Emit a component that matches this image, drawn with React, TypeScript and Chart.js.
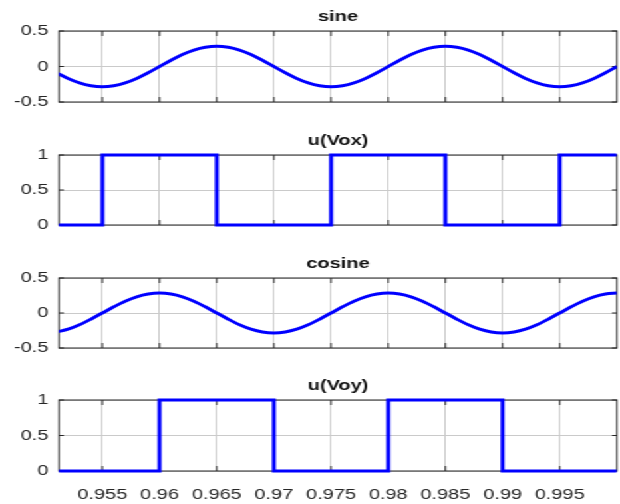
import React, { useEffect, useRef } from "react";
import { Chart, registerables } from "chart.js";

Chart.register(...registerables);

// ---------- data ----------
const TIME = [
  0.951, 0.952, 0.953, 0.954, 0.955, 0.956, 0.957, 0.958, 0.959, 0.96,
  0.961, 0.962, 0.963, 0.964, 0.965, 0.966, 0.967, 0.968, 0.969, 0.97,
  0.971, 0.972, 0.973, 0.974, 0.975, 0.976, 0.977, 0.978, 0.979, 0.98,
  0.981, 0.982, 0.983, 0.984, 0.985, 0.986, 0.987, 0.988, 0.989, 0.99,
  0.991, 0.992, 0.993, 0.994, 0.995, 0.996, 0.997, 0.998, 0.999, 1.0,
];
const SINE = [
  -0.088, -0.168, -0.231, -0.271, -0.285, -0.271, -0.231, -0.168, -0.088, 0,
  0.088, 0.168, 0.231, 0.271, 0.285, 0.271, 0.231, 0.168, 0.088, 0,
  -0.088, -0.168, -0.231, -0.271, -0.285, -0.271, -0.231, -0.168, -0.088, 0,
  0.088, 0.168, 0.231, 0.271, 0.285, 0.271, 0.231, 0.168, 0.088, 0,
  -0.088, -0.168, -0.231, -0.271, -0.285, -0.271, -0.231, -0.168, -0.088, 0,
];
const COSINE = [
  -0.271, -0.231, -0.168, -0.088, 0, 0.088, 0.168, 0.231, 0.271, 0.285,
  0.271, 0.231, 0.168, 0.088, 0, -0.088, -0.168, -0.231, -0.271, -0.285,
  -0.271, -0.231, -0.168, -0.088, 0, 0.088, 0.168, 0.231, 0.271, 0.285,
  0.271, 0.231, 0.168, 0.088, 0, -0.088, -0.168, -0.231, -0.271, -0.285,
  -0.271, -0.231, -0.168, -0.088, 0, 0.088, 0.168, 0.231, 0.271, 0.285,
];
const VOX_T = [0.951, 0.955, 0.965, 0.975, 0.985, 0.995, 1.0];
const VOX = [0, 1, 0, 1, 0, 1, 1];
const VOY_T = [0.951, 0.96, 0.97, 0.98, 0.99, 1.0];
const VOY = [0, 1, 0, 1, 0, 0];

const X_TICKS = [0.955, 0.96, 0.965, 0.97, 0.975, 0.98, 0.985, 0.99, 0.995];
const WAVE_Y_TICKS = [-0.5, 0, 0.5];
const STEP_Y_TICKS = [0, 0.5, 1];
const TITLES = ["sine", "u(Vox)", "cosine", "u(Voy)"];

// ---------- layout ----------
const INNER_W = 466;
const SX = 620 / INNER_W;
const FONT = "'Liberation Sans', Arial, Helvetica, sans-serif";
const AXIS_COLOR = "#262626";
const GRID_COLOR = "#cacaca";
const LINE_COLOR = "#0000ff";

const boxPlugin = {
  id: "boxTicks",
  beforeDatasetsDraw(chart: any) {
    const { ctx, chartArea: a, scales } = chart;
    ctx.save();
    ctx.strokeStyle = AXIS_COLOR;
    ctx.lineWidth = 1;
    ctx.strokeRect(a.left, a.top, a.right - a.left, a.bottom - a.top);
    ctx.beginPath();
    const tv = 5;
    const th = 5 / SX;
    scales.x.ticks.forEach((t: any) => {
      const px = scales.x.getPixelForValue(t.value);
      ctx.moveTo(px, a.top);
      ctx.lineTo(px, a.top + tv);
      ctx.moveTo(px, a.bottom);
      ctx.lineTo(px, a.bottom - tv);
    });
    scales.y.ticks.forEach((t: any) => {
      const py = scales.y.getPixelForValue(t.value);
      ctx.moveTo(a.left, py);
      ctx.lineTo(a.left + th, py);
      ctx.moveTo(a.right, py);
      ctx.lineTo(a.right - th, py);
    });
    ctx.stroke();
    ctx.restore();
  },
};

type Panel = {
  title: string;
  xs: number[];
  ys: number[];
  yMin: number;
  yMax: number;
  yTicks: number[];
  stepped: boolean;
  showX: boolean;
  top: number;
  height: number;
  padBottom: number;
  xHeight: number;
};

const PANELS: Panel[] = [
  { title: TITLES[0], xs: TIME, ys: SINE, yMin: -0.5, yMax: 0.5, yTicks: WAVE_Y_TICKS, stepped: false, showX: false, top: 0, height: 119, padBottom: 17, xHeight: 0 },
  { title: TITLES[1], xs: VOX_T, ys: VOX, yMin: 0, yMax: 1, yTicks: STEP_Y_TICKS, stepped: true, showX: false, top: 124, height: 118, padBottom: 17, xHeight: 0 },
  { title: TITLES[2], xs: TIME, ys: COSINE, yMin: -0.5, yMax: 0.5, yTicks: WAVE_Y_TICKS, stepped: false, showX: false, top: 247, height: 118, padBottom: 17, xHeight: 0 },
  { title: TITLES[3], xs: VOY_T, ys: VOY, yMin: 0, yMax: 1, yTicks: STEP_Y_TICKS, stepped: true, showX: true, top: 369, height: 135, padBottom: 0, xHeight: 33 },
];

function SubPlot({ p }: { p: Panel }) {
  const ref = useRef<HTMLCanvasElement | null>(null);
  useEffect(() => {
    if (!ref.current) return;
    const chart = new Chart(ref.current, {
      type: "line",
      data: {
        datasets: [
          {
            data: p.xs.map((x, i) => ({ x, y: p.ys[i] })),
            borderColor: LINE_COLOR,
            backgroundColor: LINE_COLOR,
            borderWidth: 3,
            pointRadius: 0,
            fill: false,
            stepped: p.stepped ? "before" : false,
            cubicInterpolationMode: "monotone",
            clip: { left: 0, right: 0, top: 3, bottom: 3 },
          } as any,
        ],
      },
      options: {
        animation: false,
        responsive: false,
        maintainAspectRatio: false,
        events: [],
        layout: { padding: { top: 8, bottom: p.padBottom, left: 0, right: 2.3 } },
        plugins: {
          legend: { display: false },
          tooltip: { enabled: false },
          title: {
            display: true,
            text: p.title,
            fullSize: false,
            color: "#111111",
            font: { family: FONT, size: 15, weight: "bold", lineHeight: 1.2 },
            padding: { top: 0, bottom: 5 },
          },
        },
        scales: {
          x: {
            type: "linear",
            min: 0.9512,
            max: 1.0,
            afterBuildTicks: (s: any) => {
              s.ticks = X_TICKS.map((v) => ({ value: v }));
            },
            afterFit: (s: any) => {
              s.height = p.xHeight;
            },
            grid: { color: GRID_COLOR, lineWidth: 1, drawTicks: false },
            border: { display: false },
            ticks: {
              display: p.showX,
              padding: 15,
              autoSkip: false,
              maxRotation: 0,
              color: AXIS_COLOR,
              font: { family: FONT, size: 15, lineHeight: 1.2 },
              callback: (v: any) => String(v),
            },
          },
          y: {
            type: "linear",
            min: p.yMin,
            max: p.yMax,
            afterBuildTicks: (s: any) => {
              s.ticks = p.yTicks.map((v) => ({ value: v }));
            },
            afterFit: (s: any) => {
              s.width = 44.3;
            },
            grid: { color: GRID_COLOR, lineWidth: 1, drawTicks: false },
            border: { display: false },
            ticks: {
              padding: 8,
              color: AXIS_COLOR,
              font: { family: FONT, size: 15, lineHeight: 1.2 },
              callback: (v: any) => String(v),
            },
          },
        },
      },
      plugins: [boxPlugin],
    });
    return () => chart.destroy();
  }, [p]);

  return (
    <canvas
      ref={ref}
      width={INNER_W}
      height={p.height}
      style={{ position: "absolute", left: 0, top: p.top, width: INNER_W, height: p.height }}
    />
  );
}

export default function App() {
  return (
    <div
      style={{
        position: "absolute",
        left: 0,
        top: 0,
        width: INNER_W,
        height: 504,
        overflow: "hidden",
        transform: `scaleX(${SX})`,
        transformOrigin: "0 0",
        background: "#ffffff",
      }}
    >
      {PANELS.map((p, i) => (
        <SubPlot key={i} p={p} />
      ))}
    </div>
  );
}
